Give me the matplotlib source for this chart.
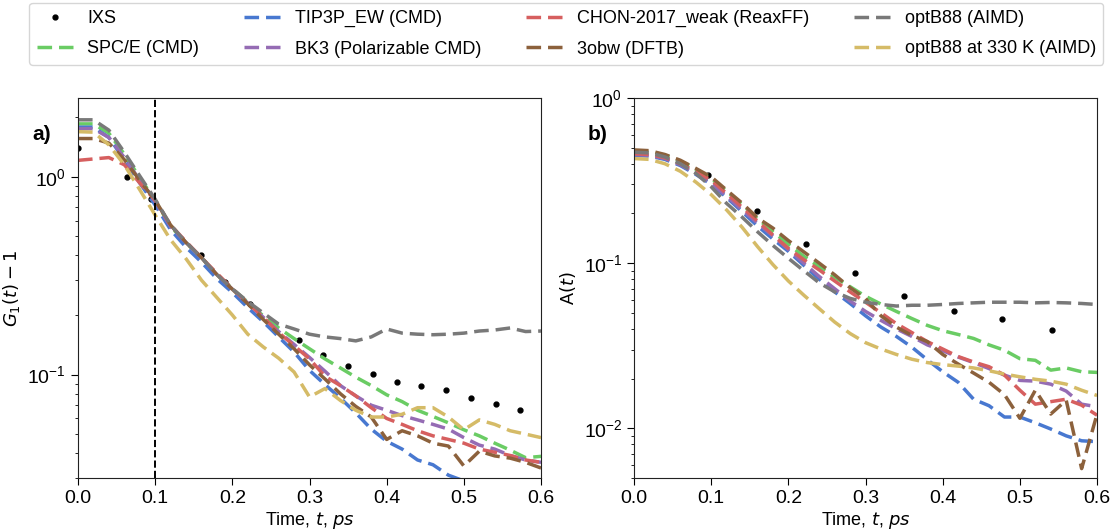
import matplotlib
matplotlib.use("Agg")
import matplotlib.pyplot as plt

plt.rcParams['font.family'] = ['Liberation Sans', 'DejaVu Sans']

# ---------------- data ----------------
t_grid = [0.00, 0.02, 0.04, 0.06, 0.08, 0.10, 0.12, 0.14, 0.16, 0.18, 0.20,
          0.22, 0.24, 0.26, 0.28, 0.30, 0.32, 0.34, 0.36, 0.38, 0.40,
          0.42, 0.44, 0.46, 0.48, 0.50, 0.52, 0.54, 0.56, 0.58, 0.60]

labels = ["SPC/E (CMD)", "TIP3P_EW (CMD)", "BK3 (Polarizable CMD)",
          "CHON-2017_weak (ReaxFF)", "3obw (DFTB)", "optB88 (AIMD)",
          "optB88 at 330 K (AIMD)"]

# IXS data
t_ixs_a = [0.000, 0.064, 0.095, 0.159, 0.191, 0.223, 0.254,
           0.286, 0.318, 0.350, 0.382, 0.414, 0.445, 0.477, 0.509, 0.541, 0.573]
g_ixs = [1.40, 1.00, 0.77, 0.40, 0.295, 0.228, 0.177,
         0.149, 0.125, 0.111, 0.101, 0.092, 0.088, 0.084, 0.0765, 0.071, 0.0665]
t_ixs_b = [0.096, 0.159, 0.223, 0.286, 0.350, 0.414, 0.477, 0.541]
a_ixs = [0.341, 0.207, 0.130, 0.0874, 0.063, 0.0512, 0.0458, 0.0396]

# panel a: G1(t) - 1
g_spce = [1.85, 1.85, 1.66, 1.30, 0.99, 0.76, 0.56, 0.465, 0.39, 0.32, 0.272,
          0.232, 0.198, 0.172, 0.152, 0.135, 0.12, 0.108, 0.097, 0.088, 0.079,
          0.073, 0.066, 0.0614, 0.057, 0.0526, 0.049, 0.045, 0.0415, 0.038, 0.0386]
g_tip3p = [1.78, 1.78, 1.58, 1.22, 0.93, 0.72, 0.54, 0.44, 0.37, 0.305, 0.26,
           0.218, 0.185, 0.155, 0.13, 0.105, 0.089, 0.076, 0.064, 0.053, 0.046,
           0.042, 0.037, 0.035, 0.031, 0.029, 0.029, 0.026, 0.025, 0.024, 0.023]
g_bk3 = [1.75, 1.75, 1.58, 1.25, 0.96, 0.75, 0.56, 0.465, 0.39, 0.32, 0.27,
         0.23, 0.195, 0.165, 0.142, 0.122, 0.104, 0.088, 0.078, 0.07, 0.066,
         0.062, 0.059, 0.056, 0.053, 0.048, 0.044, 0.042, 0.039, 0.037, 0.036]
g_chon = [1.21, 1.23, 1.25, 1.15, 0.93, 0.76, 0.57, 0.47, 0.39, 0.325, 0.272,
          0.23, 0.195, 0.163, 0.14, 0.12, 0.098, 0.088, 0.078, 0.068, 0.06,
          0.056, 0.052, 0.049, 0.047, 0.045, 0.042, 0.0405, 0.039, 0.037, 0.036]
g_3obw = [1.56, 1.56, 1.48, 1.22, 0.96, 0.76, 0.57, 0.465, 0.39, 0.32, 0.27,
          0.228, 0.19, 0.16, 0.135, 0.112, 0.095, 0.08, 0.069, 0.061, 0.047,
          0.052, 0.049, 0.045, 0.0435, 0.0345, 0.041, 0.0388, 0.0378, 0.036, 0.0337]
g_optb88 = [1.94, 1.94, 1.72, 1.33, 1.01, 0.77, 0.57, 0.466, 0.39, 0.32, 0.271,
            0.234, 0.205, 0.18, 0.17, 0.16, 0.155, 0.152, 0.148, 0.155, 0.17,
            0.162, 0.16, 0.159, 0.16, 0.162, 0.166, 0.168, 0.172, 0.165, 0.166]
g_optb88_330 = [1.69, 1.68, 1.45, 1.15, 0.86, 0.64, 0.48, 0.385, 0.30, 0.245, 0.20,
                0.16, 0.138, 0.121, 0.103, 0.077, 0.085, 0.074, 0.066, 0.061, 0.061,
                0.063, 0.068, 0.068, 0.061, 0.0526, 0.059, 0.056, 0.052, 0.05, 0.048]

# panel b: A(t)
a_spce = [0.475, 0.47, 0.45, 0.415, 0.37, 0.325, 0.272, 0.226, 0.186, 0.155, 0.13,
          0.11, 0.095, 0.082, 0.072, 0.063, 0.0565, 0.051, 0.0462, 0.042, 0.039,
          0.037, 0.035, 0.032, 0.0297, 0.0264, 0.0258, 0.0225, 0.0232, 0.022, 0.0218]
a_tip3p = [0.45, 0.445, 0.425, 0.39, 0.345, 0.30, 0.25, 0.205, 0.168, 0.14, 0.118,
           0.097, 0.08, 0.067, 0.057, 0.048, 0.041, 0.036, 0.031, 0.026, 0.022,
           0.019, 0.015, 0.0137, 0.0117, 0.0117, 0.0108, 0.0099, 0.009, 0.0084, 0.0083]
a_bk3 = [0.455, 0.45, 0.43, 0.395, 0.35, 0.305, 0.255, 0.21, 0.175, 0.146, 0.121,
         0.10, 0.083, 0.07, 0.059, 0.051, 0.045, 0.04, 0.036, 0.032, 0.0295,
         0.027, 0.025, 0.023, 0.021, 0.0195, 0.0193, 0.0185, 0.0168, 0.014, 0.0135]
a_chon = [0.46, 0.455, 0.435, 0.40, 0.36, 0.318, 0.264, 0.218, 0.18, 0.148, 0.123,
          0.105, 0.091, 0.078, 0.067, 0.058, 0.05, 0.043, 0.038, 0.0335, 0.0302,
          0.0272, 0.0252, 0.0236, 0.021, 0.017, 0.014, 0.0145, 0.015, 0.0138, 0.012]
a_3obw = [0.485, 0.48, 0.455, 0.42, 0.375, 0.333, 0.277, 0.231, 0.188, 0.163, 0.137,
          0.117, 0.10, 0.085, 0.071, 0.061, 0.048, 0.041, 0.0365, 0.0335, 0.028,
          0.0245, 0.0216, 0.019, 0.016, 0.0115, 0.017, 0.0122, 0.0148, 0.0057, 0.0122]
a_optb88 = [0.47, 0.465, 0.44, 0.40, 0.35, 0.29, 0.23, 0.19, 0.155, 0.128, 0.107,
            0.09, 0.076, 0.067, 0.0612, 0.058, 0.0562, 0.055, 0.0556, 0.0556, 0.0562,
            0.057, 0.0575, 0.058, 0.058, 0.058, 0.0575, 0.0578, 0.0575, 0.057, 0.0562]
a_optb88_330 = [0.43, 0.425, 0.40, 0.36, 0.31, 0.26, 0.21, 0.165, 0.126, 0.098, 0.078,
                0.064, 0.053, 0.044, 0.0375, 0.033, 0.0302, 0.028, 0.0262, 0.025, 0.0243,
                0.0238, 0.0232, 0.0223, 0.0213, 0.0205, 0.0198, 0.0193, 0.0185, 0.017, 0.0158]

colors = ["#6acc64", "#4878d0", "#956cb4", "#d65f5f", "#8c613c", "#797979", "#d5bb67"]

series_a = [g_spce, g_tip3p, g_bk3, g_chon, g_3obw, g_optb88, g_optb88_330]
series_b = [a_spce, a_tip3p, a_bk3, a_chon, a_3obw, a_optb88, a_optb88_330]

# ---------------- figure ----------------
fig = plt.figure(figsize=(11.19, 5.31), dpi=100)
axa = fig.add_axes([0.0697, 0.0998, 0.4138, 0.7156])
axb = fig.add_axes([0.5666, 0.0998, 0.4138, 0.7156])

dash = (0, (4.2, 2.0))
lw = 2.5

handles = {}
for ax, ixs_t, ixs_v, series in [(axa, t_ixs_a, g_ixs, series_a),
                                  (axb, t_ixs_b, a_ixs, series_b)]:
    h, = ax.plot(ixs_t, ixs_v, 'o', color='black', markersize=3.5, zorder=1,
                 label="IXS")
    handles["IXS"] = h
    for lab, vals, c in zip(labels, series, colors):
        h, = ax.plot(t_grid, vals, linestyle=dash, color=c, lw=lw, label=lab,
                     zorder=2)
        handles[lab] = h
    ax.set_yscale('log')
    ax.set_xlim(0, 0.6)
    ax.set_xticks([0.0, 0.1, 0.2, 0.3, 0.4, 0.5, 0.6])
    ax.tick_params(axis='both', which='major', labelsize=14, length=5)
    ax.set_xlabel("Time, $t$, $ps$", fontsize=13, labelpad=2)
    for sp in ax.spines.values():
        sp.set_color('#222222')

axa.axvline(0.1, color='black', linestyle='--', lw=1.4, zorder=3)
axa.set_ylim(0.03, 2.5)
axb.set_ylim(0.005, 1.0)
axa.set_ylabel("$G_1(t) - 1$", fontsize=13)
axb.set_ylabel("A$(t)$", fontsize=13)

fig.text(0.0286, 0.737, "a)", fontsize=15, fontweight='bold')
fig.text(0.5255, 0.737, "b)", fontsize=15, fontweight='bold')

order = ["IXS", labels[0], labels[1], labels[2], labels[3], labels[4],
         labels[5], labels[6]]
fig.legend([handles[k] for k in order], order, loc='upper center',
           bbox_to_anchor=(0.506, 1.0), ncol=4, fontsize=13,
           frameon=True, columnspacing=2.5, handlelength=2.0,
           labelspacing=0.75, borderaxespad=0.15)

fig.savefig("out.png", dpi=100)
